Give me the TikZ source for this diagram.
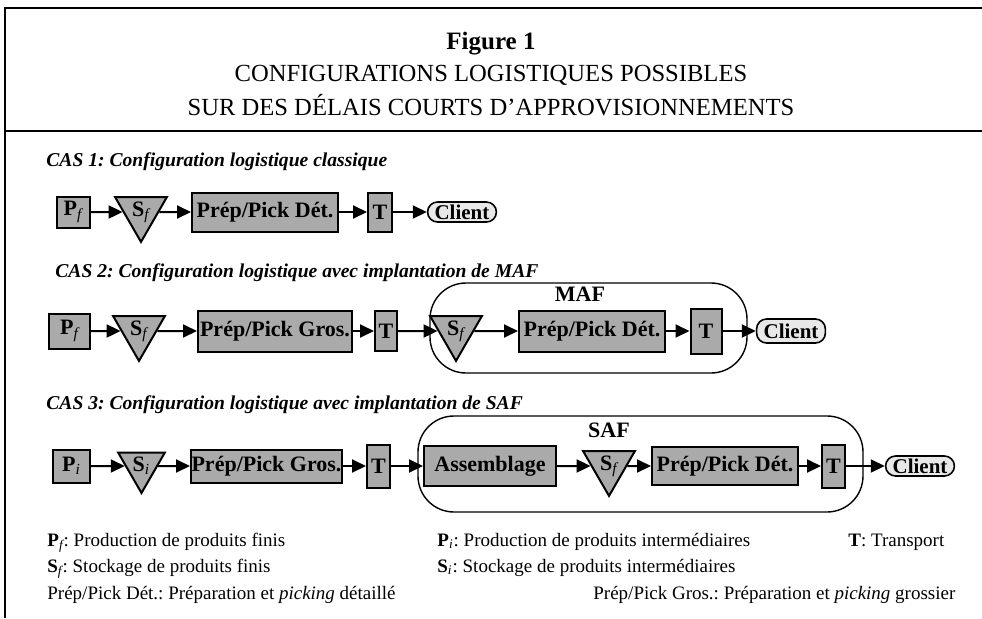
\documentclass[tikz,border=0pt]{standalone}
\usepackage{fontspec}
\setmainfont{Liberation Serif}
\usepackage{xcolor}
\usetikzlibrary{positioning, arrows.meta, shapes.geometric}

\definecolor{boxgray}{RGB}{170,170,170}
\definecolor{clientgray}{RGB}{232,232,232}
\newcommand{\idx}[1]{\textsubscript{\normalfont\itshape #1}}
\frenchspacing

\tikzset{
  proc/.style={draw, line width=1pt, fill=boxgray, inner sep=0pt, font=\fontsize{11}{13}\selectfont\bfseries},
  stock/.style={draw, line width=1pt, fill=boxgray, regular polygon, regular polygon sides=3, shape border rotate=180, minimum size=27pt, inner sep=0pt, font=\fontsize{11}{13}\selectfont\bfseries},
  client/.style={draw, line width=0.8pt, fill=clientgray, rounded corners=5pt, inner xsep=3.5pt, inner ysep=0pt, font=\fontsize{10.5}{13}\selectfont\bfseries},
  flow/.style={-{Triangle[length=7pt, width=6.5pt]}, line width=1pt},
  zone/.style={draw, line width=0.7pt, rounded corners=18pt, inner sep=0pt},
  cas/.style={anchor=base west, inner sep=0pt, font=\fontsize{9.8}{12}\selectfont\bfseries\itshape},
  legend/.style={anchor=base west, inner sep=0pt, font=\fontsize{9.5}{12}\selectfont}
}

\begin{document}
\begin{tikzpicture}[x=0.5pt, y=-0.5pt]
            \useasboundingbox (0, 0) rectangle (982, 618);

            % frame and title
            \draw[line width=1pt] (982, 7.5) -- (4.5, 7.5) -- (4.5, 618);
            \draw[line width=0.8pt] (4.5, 131) -- (982, 131);
            \node[font=\fontsize{12.5}{14}\selectfont\bfseries] (fig) at (491, 44) {Figure 1};
            \node[font=\fontsize{12.3}{14}\selectfont] (title1) at (491, 75) {CONFIGURATIONS LOGISTIQUES POSSIBLES};
            \node[font=\fontsize{12.3}{14}\selectfont] (title2) at (491, 105) {SUR DES DÉLAIS COURTS D’APPROVISIONNEMENTS};

            % CAS 1
            \node[cas] (cas1) at (46, 166) {CAS 1: Configuration logistique classique};
            \node[proc, minimum width=16.5pt, minimum height=15.5pt] (pf1) at (73, 212) {P\idx{f}};
            \node[stock] (sf1) at (141, 212) {S\idx{f}};
            \node[proc, minimum width=73pt, minimum height=19.5pt] (det1) at (265, 212) {Prép/Pick Dét.};
            \node[proc, minimum width=12pt, minimum height=19.5pt] (t1) at (380, 212) {T};
            \node[client, minimum height=10pt] (cl1) at (462, 212) {Client};

            \draw[flow] (pf1) -- (sf1);
            \draw[flow] (sf1) -- (det1);
            \draw[flow] (det1) -- (t1);
            \draw[flow] (t1) -- (cl1);

            % CAS 2
            \node[cas] (cas2) at (55, 277) {CAS 2: Configuration logistique avec implantation de MAF};
            \node[zone, minimum width=158.5pt, minimum height=45pt] (maf) at (588.5, 328) {};
            \node[font=\fontsize{11}{13}\selectfont\bfseries] (maflabel) at (580, 294) {MAF};
            \node[proc, minimum width=20.5pt, minimum height=17.5pt] (pf2) at (69.5, 331) {P\idx{f}};
            \node[stock] (sf2) at (139, 331) {S\idx{f}};
            \node[proc, minimum width=77pt, minimum height=20.5pt] (gros2) at (275, 331) {Prép/Pick Gros.};
            \node[proc, minimum width=11pt, minimum height=20pt] (t2) at (386, 331) {T};
            \node[stock] (sf3) at (456, 331) {S\idx{f}};
            \node[proc, minimum width=73pt, minimum height=20.5pt] (det2) at (592, 331) {Prép/Pick Dét.};
            \node[proc, minimum width=15.5pt, minimum height=22.5pt] (t3) at (706, 331) {T};
            \node[client, minimum height=12pt] (cl2) at (791, 331) {Client};

            \draw[flow] (pf2) -- (sf2);
            \draw[flow] (sf2) -- (gros2);
            \draw[flow] (gros2) -- (t2);
            \draw[flow] (t2) -- (sf3);
            \draw[flow] (sf3) -- (det2);
            \draw[flow] (det2) -- (t3);
            \draw[flow] (t3) -- (cl2);

            % CAS 3
            \node[cas] (cas3) at (46, 409) {CAS 3: Configuration logistique avec implantation de SAF};
            \node[zone, minimum width=222.5pt, minimum height=48pt] (saf) at (640.5, 464) {};
            \node[font=\fontsize{11}{13}\selectfont\bfseries] (saflabel) at (609, 430) {SAF};
            \node[proc, minimum width=18.5pt, minimum height=16.5pt] (pi) at (71.5, 466) {P\idx{i}};
            \node[stock] (si) at (141.5, 466) {S\idx{i}};
            \node[proc, minimum width=75.5pt, minimum height=16.5pt] (gros3) at (266.5, 466) {Prép/Pick Gros.};
            \node[proc, minimum width=11.5pt, minimum height=21.5pt] (t4) at (378.5, 466) {T};
            \node[proc, minimum width=66pt, minimum height=20pt] (asm) at (490, 466) {Assemblage};
            \node[stock] (sf4) at (609, 466) {S\idx{f}};
            \node[proc, minimum width=73pt, minimum height=19pt] (det3) at (725, 466) {Prép/Pick Dét.};
            \node[proc, minimum width=11.5pt, minimum height=21.5pt] (t5) at (833.5, 466) {T};
            \node[client, minimum height=10pt] (cl3) at (920, 466) {Client};

            \draw[flow] (pi) -- (si);
            \draw[flow] (si) -- (gros3);
            \draw[flow] (gros3) -- (t4);
            \draw[flow] (t4) -- (asm);
            \draw[flow] (asm) -- (sf4);
            \draw[flow] (sf4) -- (det3);
            \draw[flow] (det3) -- (t5);
            \draw[flow] (t5) -- (cl3);

            % legend
            \node[legend] (lpf) at (47, 546) {\textbf{P}\idx{f}: Production de produits finis};
            \node[legend] (lpi) at (437, 546) {\textbf{P}\idx{i}: Production de produits intermédiaires};
            \node[legend] (lt) at (848, 546) {\textbf{T}: Transport};
            \node[legend] (lsf) at (47, 572) {\textbf{S}\idx{f}: Stockage de produits finis};
            \node[legend] (lsi) at (437, 572) {\textbf{S}\idx{i}: Stockage de produits intermédiaires};
            \node[legend] (ldet) at (47, 599) {Prép/Pick Dét.: Préparation et \textit{picking} détaillé};
            \node[legend] (lgros) at (593, 599) {Prép/Pick Gros.: Préparation et \textit{picking} grossier};
        \end{tikzpicture}
\end{document}
